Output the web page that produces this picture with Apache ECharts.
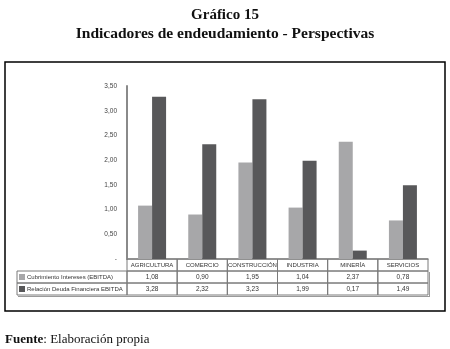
<!DOCTYPE html>
<html>
<head>
<meta charset="utf-8">
<script src="https://cdn.jsdelivr.net/npm/echarts@6/dist/echarts.min.js"></script>
<style>
  html, body { margin: 0; padding: 0; background: #fff; }
  #chart { width: 450px; height: 349px; }
</style>
</head>
<body>
<div id="chart"></div>
<script>
var sectores = ['AGRICULTURA', 'COMERCIO', 'CONSTRUCCIÓN', 'INDUSTRIA', 'MINERÍA', 'SERVICIOS'];
var serieNombres = ['Cubrimiento Intereses (EBITDA)', 'Relación Deuda Financiera EBITDA'];
var cubrimiento = [1.08, 0.90, 1.95, 1.04, 2.37, 0.78];
var relacionDeuda = [3.28, 2.32, 3.23, 1.99, 0.17, 1.49];
var colores = ['#a7a7a9', '#58585a'];

function coma(v) {
    return v.toFixed(2).replace('.', ',');
}

var chart = echarts.init(document.getElementById('chart'));

// caja del grafico (pixeles)
var gLeft = 127, gRight = 428, gTop = 86, gBottom = 259;
var tLeft = 17, rowH = 12;
var colW = (gRight - gLeft) / sectores.length;

var graficos = [];
// marco exterior
graficos.push({
    type: 'rect', shape: { x: 5, y: 62, width: 440, height: 249 },
    style: { fill: null, stroke: '#000', lineWidth: 1.5 }
});

// tabla de datos
var lineaTabla = { stroke: '#7a7a7a', lineWidth: 1, fill: null };
for (var c = 0; c < sectores.length; c++) {
    var x = gLeft + c * colW;
    graficos.push({
        type: 'rect', shape: { x: x, y: gBottom, width: colW, height: rowH },
        style: lineaTabla, z: 1
    });
    graficos.push({
        type: 'text', x: x + colW / 2, y: gBottom + rowH / 2,
        style: { text: sectores[c], fill: '#333', font: '6px "Liberation Sans"', align: 'center', verticalAlign: 'middle' }, z: 2
    });
}
var filas = [cubrimiento, relacionDeuda];
for (var r = 0; r < filas.length; r++) {
    var y = gBottom + rowH * (r + 1);
    graficos.push({
        type: 'rect', shape: { x: tLeft, y: y, width: gLeft - tLeft, height: rowH },
        style: lineaTabla, z: 1
    });
    graficos.push({
        type: 'rect', shape: { x: tLeft + 2, y: y + 3, width: 6, height: 6 },
        style: { fill: colores[r] }, z: 2
    });
    graficos.push({
        type: 'text', x: tLeft + 10, y: y + rowH / 2,
        style: { text: serieNombres[r], fill: '#333', font: '6px "Liberation Sans"', verticalAlign: 'middle' }, z: 2
    });
    for (var c2 = 0; c2 < sectores.length; c2++) {
        var x2 = gLeft + c2 * colW;
        graficos.push({
            type: 'rect', shape: { x: x2, y: y, width: colW, height: rowH },
            style: lineaTabla, z: 1
        });
        graficos.push({
            type: 'text', x: x2 + colW / 2, y: y + rowH / 2,
            style: { text: coma(filas[r][c2]), fill: '#333', font: '6.5px "Liberation Sans"', align: 'center', verticalAlign: 'middle' }, z: 2
        });
    }
}
// sombra de la tabla
graficos.push({
    type: 'line', shape: { x1: tLeft + 1, y1: gBottom + rowH * 3 + 1.5, x2: gRight + 1, y2: gBottom + rowH * 3 + 1.5 },
    style: { stroke: '#9a9a9a', lineWidth: 1 }
});
graficos.push({
    type: 'line', shape: { x1: gRight + 1.5, y1: gBottom + rowH + 1, x2: gRight + 1.5, y2: gBottom + rowH * 3 + 2 },
    style: { stroke: '#9a9a9a', lineWidth: 1 }
});
// fuente
graficos.push({
    type: 'text', x: 5, y: 340,
    style: {
        text: '{b|Fuente}: Elaboración propia',
        verticalAlign: 'middle',
        font: '13px "Liberation Serif"', fill: '#111',
        rich: { b: { fontWeight: 'bold', fontFamily: 'Liberation Serif', fontSize: 13, fill: '#111' } }
    }
});

var option = {
    animation: false,
    title: [{
        text: 'Gráfico 15',
        left: 'center', top: 3,
        textStyle: { fontFamily: 'Liberation Serif', fontWeight: 'bold', fontSize: 15, color: '#111' }
    }, {
        text: 'Indicadores de endeudamiento - Perspectivas',
        left: 'center', top: 21,
        textStyle: { fontFamily: 'Liberation Serif', fontWeight: 'bold', fontSize: 15.5, color: '#111' }
    }],
    grid: { left: gLeft, right: 450 - gRight, top: gTop, bottom: 349 - gBottom, containLabel: false },
    xAxis: {
        type: 'category',
        data: sectores,
        axisLine: { lineStyle: { color: '#8a8a8a', width: 1.5 } },
        axisTick: { show: false },
        axisLabel: { show: false }
    },
    yAxis: {
        type: 'value',
        min: 0, max: 3.5, interval: 0.5,
        axisLine: { show: true, lineStyle: { color: '#8a8a8a', width: 2 } },
        axisTick: { show: false },
        splitLine: { show: false },
        axisLabel: {
            margin: 10,
            fontSize: 6.5, color: '#444', fontFamily: 'Liberation Sans',
            formatter: function (v) { return v === 0 ? '-' : coma(v); }
        }
    },
    series: [{
        name: serieNombres[0], type: 'bar', data: cubrimiento,
        barWidth: 14, barGap: '0%',
        itemStyle: { color: colores[0] }
    }, {
        name: serieNombres[1], type: 'bar', data: relacionDeuda,
        barWidth: 14, barGap: '0%',
        itemStyle: { color: colores[1] }
    }],
    graphic: graficos
};
chart.setOption(option);
</script>
</body>
</html>
